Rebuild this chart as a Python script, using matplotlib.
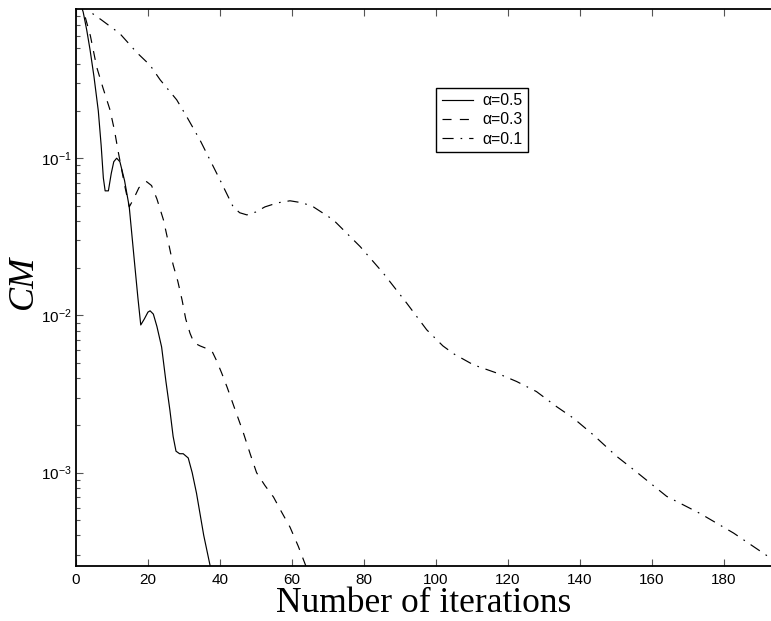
import matplotlib
matplotlib.use("Agg")
import matplotlib.pyplot as plt
from matplotlib.ticker import LogLocator, FixedLocator

plt.rcParams['font.family'] = ['Liberation Sans', 'DejaVu Sans']
plt.rcParams['mathtext.fontset'] = 'custom'
plt.rcParams['mathtext.rm'] = 'Liberation Sans'
plt.rcParams['mathtext.it'] = 'Liberation Sans:italic'
plt.rcParams['lines.scale_dashes'] = False

# alpha = 0.5 (solid)
x_a05 = [1, 2, 3, 3.9, 5, 6.2, 7.0, 7.6, 8.1, 9.0, 9.8, 10.5, 11.3, 12.2, 13.5, 14.8,
         16.2, 17.2, 18.0, 19.0, 20.0, 20.6, 21.5, 22.5, 23.8, 25.0, 26.1, 27.0, 27.8,
         28.8, 29.8, 31.2, 32.3, 33.5, 35.5, 37.3, 38.5]
y_a05 = [1.0, 0.85, 0.65, 0.49, 0.33, 0.2, 0.12, 0.075, 0.062, 0.062, 0.08, 0.095, 0.1,
         0.095, 0.072, 0.049, 0.0225, 0.013, 0.0087, 0.0095, 0.0105, 0.0107, 0.0102,
         0.0085, 0.0063, 0.0038, 0.0025, 0.0017, 0.00137, 0.00132, 0.00132, 0.00124,
         0.001, 0.00074, 0.0004, 0.000255, 0.00018]

# alpha = 0.3 (dashed)
x_a03 = [1, 2, 4, 5.75, 7.5, 9.45, 10.7, 11.8, 13.6, 14.8, 16.0, 17.5, 19.6, 21.0, 22.5,
         24.3, 25.7, 27.0, 28.3, 29.5, 30.5, 31.7, 32.8, 34.5, 36.0, 37.7, 39.0, 40.5,
         42.0, 44.0, 46.5, 48.5, 50.2, 52.5, 54.9, 57.0, 59.5, 61.8, 63.9, 65.0]
y_a03 = [1.0, 0.88, 0.6, 0.38, 0.28, 0.203, 0.15, 0.108, 0.066, 0.049, 0.055, 0.065,
         0.071, 0.067, 0.055, 0.0406, 0.029, 0.021, 0.0165, 0.0125, 0.0095, 0.0077,
         0.0067, 0.0064, 0.0062, 0.006, 0.0052, 0.0043, 0.0035, 0.0026, 0.0018, 0.0013,
         0.001, 0.00083, 0.0007, 0.00057, 0.00045, 0.00034, 0.000255, 0.00022]

# alpha = 0.1 (dash-dot)
x_a01 = [1, 4, 7.1, 12.2, 16.9, 20.6, 23.4, 28.0, 31.0, 34.5, 37.0, 40.0, 43.7, 45.5,
         47.5, 50.0, 52.5, 56.0, 59.5, 63.0, 66.0, 71.5, 79.0, 85.4, 91.9, 97.5, 102.0,
         105.0, 110.5, 117.0, 122.5, 128.0, 133.6, 138.3, 143.8, 150.3, 154.9, 164.2,
         173.5, 182.8, 193.1, 195.0]
y_a01 = [1.0, 0.85, 0.757, 0.62, 0.47, 0.39, 0.315, 0.235, 0.18, 0.13, 0.1, 0.073, 0.049,
         0.045, 0.0436, 0.0455, 0.049, 0.052, 0.0536, 0.052, 0.049, 0.0406, 0.0274,
         0.0186, 0.012, 0.0081, 0.0064, 0.0057, 0.00485, 0.0043, 0.0038, 0.00328,
         0.00263, 0.00222, 0.00174, 0.00127, 0.00105, 0.000707, 0.00055, 0.000413,
         0.000286, 0.00027]

labels = ['\u03b1=0.5', '\u03b1=0.3', '\u03b1=0.1']
x_ticks = [0, 20, 40, 60, 80, 100, 120, 140, 160, 180]

fig = plt.figure(figsize=(7.71, 6.21), dpi=100)
ax = fig.add_axes([76/771, 1 - 566/621, 1 - 76/771, (566 - 9)/621])

lw = 0.85
ax.plot(x_a05, y_a05, color='black', lw=lw, linestyle='-', label=labels[0])
ax.plot(x_a03, y_a03, color='black', lw=lw, linestyle=(0, (6.5, 6)), label=labels[1])
ax.plot(x_a01, y_a01, color='black', lw=lw, linestyle=(0, (8, 5, 1.2, 5)), label=labels[2])

ax.set_yscale('log')
ax.set_xlim(0, 193.2)
ax.set_ylim(2.55e-4, 0.889)
ax.xaxis.set_major_locator(FixedLocator(x_ticks))
ax.yaxis.set_major_locator(LogLocator(base=10, numticks=10))
ax.yaxis.set_minor_locator(LogLocator(base=10, subs=[2, 3, 4, 5, 6, 7, 8, 9], numticks=10))
ax.yaxis.set_minor_formatter(plt.NullFormatter())

ax.tick_params(axis='x', which='major', direction='in', top=True, bottom=True,
               length=5, width=0.8, labelsize=11, pad=5, color='#555555')
ax.tick_params(axis='y', which='major', direction='in', left=True, right=False,
               length=5, width=0.8, labelsize=11, pad=3, color='#555555')
ax.tick_params(axis='y', which='minor', direction='in', left=True, right=False,
               length=3, width=0.8, color='#555555')

for s in ['left', 'bottom', 'top']:
    ax.spines[s].set_linewidth(1.3)
ax.spines['right'].set_visible(False)

ax.set_xlabel('Number of iterations', family=['Liberation Serif'], fontsize=25.5, labelpad=0)
ax.set_ylabel('CM', family=['Liberation Serif'], style='italic', fontsize=26, labelpad=0)
ax.yaxis.set_label_coords(-0.052, 0.51)

leg = ax.legend(loc='upper left', bbox_to_anchor=(0.518, 0.859), fontsize=11.3,
                frameon=True, fancybox=False, framealpha=1, edgecolor='black',
                handlelength=2.0, handletextpad=0.6, labelspacing=0.28,
                borderpad=0.35, borderaxespad=0)
leg.get_frame().set_linewidth(1.0)

fig.savefig('out.png', dpi=100)
